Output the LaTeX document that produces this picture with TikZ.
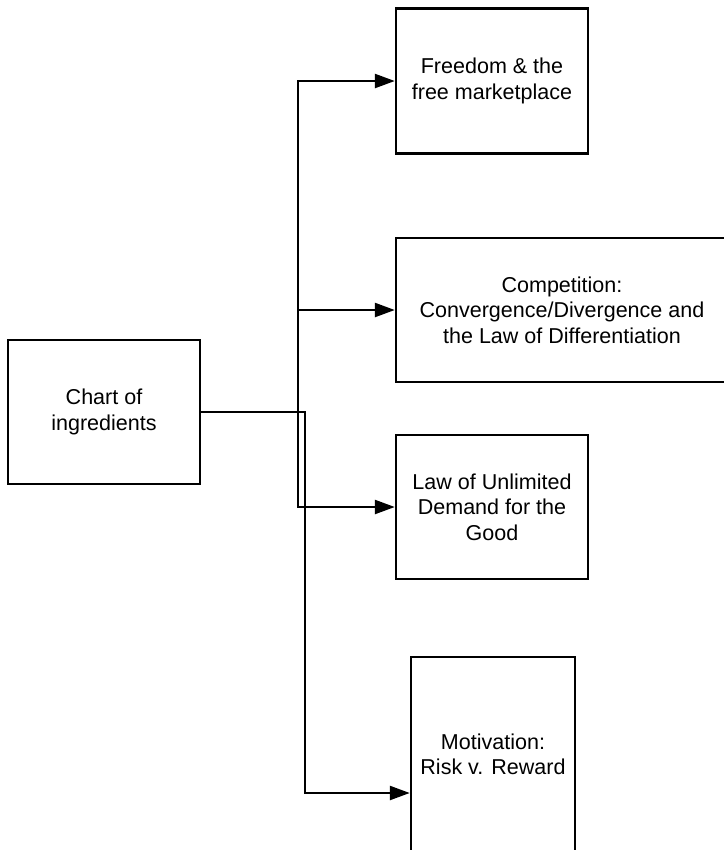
\documentclass[tikz,border=0pt]{standalone}
\usepackage{fontspec}
\setmainfont{Liberation Sans}
\usetikzlibrary{arrows.meta}

\begin{document}
\begin{tikzpicture}[x=0.02cm, y=-0.02cm,
    ingredient/.style={draw, line width=1.4pt, align=center, inner sep=0pt,
        font=\fontsize{12.25}{14.4}\selectfont},
    feed/.style={line width=1.4pt, -{Triangle[length=0.4cm, width=0.28cm]}}]

        \newcommand\boxW{3.84cm}
        \newcommand\boxH{2.88cm}

        % Page frame
        \clip (0,0) rectangle (724,850);

        % Boxes
        \node[ingredient, minimum width=\boxW, minimum height=\boxH] (chart) at (104,412) {Chart of\\ingredients};
        \node[ingredient, minimum width=\boxW, minimum height=2.9cm] (freedom) at (492,81) {Freedom \& the\\free marketplace};
        \node[ingredient, minimum width=6.64cm, minimum height=\boxH] (compet) at (562,310) {Competition:\\Convergence/Divergence and\\the Law of Differentiation};
        \node[ingredient, minimum width=\boxW, minimum height=\boxH] (law) at (492,507) {Law of Unlimited\\Demand for the\\Good};
        \node[ingredient, minimum width=3.28cm, minimum height=3.88cm] (motiv) at (493,754) {Motivation:\\Risk v. Reward};

        % Split points
        \coordinate (split) at (298,412);
        \coordinate (splitlow) at (305,412);

        % Connectors
        \foreach \target in {freedom, compet, law}
            \draw[feed] (chart.east) -- (split) |- (\target.west);
        \draw[feed] (chart.east) -- (splitlow) |- ([yshift=-0.78cm]motiv.west);

\end{tikzpicture}
\end{document}
